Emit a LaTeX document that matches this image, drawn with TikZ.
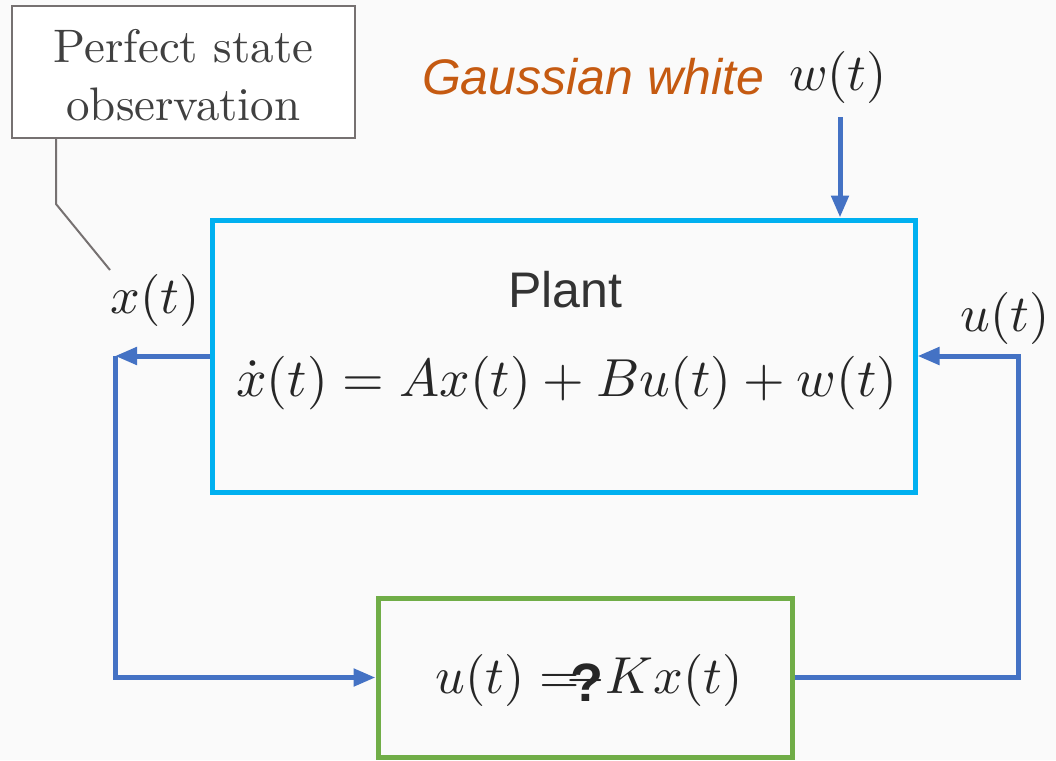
\documentclass[tikz,border=0pt]{standalone}
\usepackage{fontspec}
\usepackage{amsmath}
\usepackage{tikz}
\usetikzlibrary{arrows.meta, positioning, calc}
\newfontfamily\plantfont{Liberation Sans}
\definecolor{plantcyan}{RGB}{0,176,240}
\definecolor{ctrlgreen}{RGB}{112,173,71}
\definecolor{flowblue}{RGB}{68,114,196}
\definecolor{noiseorange}{RGB}{197,90,17}
\definecolor{notegray}{RGB}{118,113,113}
\definecolor{bggray}{RGB}{250,250,250}

\begin{document}
\begin{tikzpicture}[x=1pt, y=-1pt,
  wire/.style={flowblue, line width=5pt},
  flow/.style={wire, -{Triangle[length=22pt,width=17pt]}},
  mathlabel/.style={text=black!85, scale=5.2},
  sanslabel/.style={font=\plantfont, scale=5}]
  % Background
  \fill[bggray] (0,0) rectangle (1056,760);
  \useasboundingbox (0,0) rectangle (1056,760);
  % Annotation
  \node[draw=notegray, line width=2pt, fill=white, minimum width=343pt, minimum height=132pt, inner sep=0] (note) at (183.5,72) {};
  \node[text=black!75, align=center, scale=4.7] (notetext) at ([yshift=-3pt]note.center) {Perfect state\\[0.4pt]observation};
  % Plant
  \node[draw=plantcyan, line width=5pt, minimum width=703pt, minimum height=272pt, inner sep=0] (plant) at (563.5,356) {};
  \node[sanslabel, text=black!80] (plantname) at (565,290) {Plant};
  \node[mathlabel, scale=1.03] (planteq) at (567,383) {$\dot{x}(t) = Ax(t) + Bu(t) + w(t)$};
  % Controller
  \node[draw=ctrlgreen, line width=5pt, minimum width=414pt, minimum height=159pt, inner sep=0] (ctrl) at (585,677.5) {};
  \node[mathlabel] (ctrleq) at (589,680) {$u(t) = \mkern-10mu -Kx(t)$};
  \node[font=\plantfont\bfseries, text=black!85, scale=5.4] (unknown) at (587,683) {?};
  % Noise input
  \node[sanslabel, text=noiseorange] (noise) at (593,77) {\itshape Gaussian white};
  \node[mathlabel] (w) at (838,77) {$w(t)$};
  \draw[flow] ([xshift=2pt,yshift=-40pt]w.center) -- ([xshift=2pt]w.center |- plant.north);
  % Signals
  \node[mathlabel] (xlabel) at (155,300) {$x(t)$};
  \node[mathlabel] (ulabel) at (1005,318) {$u(t)$};
  \coordinate (xturn) at (115,356);
  \coordinate (uturn) at (1018,356);
  % Feedback loop
  \draw[flow] (plant.west) -- (xturn);
  \draw[flow] (xturn) |- (ctrl.west);
  \draw[flow] (ctrl.east) -| (uturn) -- (plant.east);
  % Callout
  \draw[notegray, line width=2pt] ([xshift=45pt]note.south west) -- ++(0,65) -- ([xshift=-45pt,yshift=30pt]xlabel.center);
\end{tikzpicture}
\end{document}
